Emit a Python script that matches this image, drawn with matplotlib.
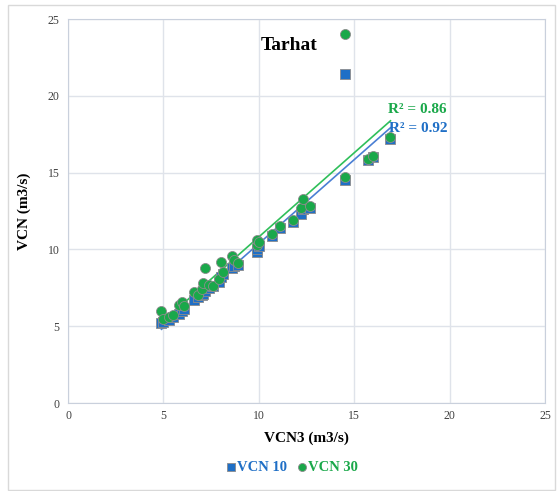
import numpy as np
import matplotlib.pyplot as plt
from matplotlib.patches import Rectangle

# VCN3 vs VCN10 / VCN30, station Tarhat
vcn3 = [4.9, 5.0, 5.3, 5.5, 5.8, 6.0, 6.1, 6.6, 6.8, 7.0, 7.1, 7.2, 7.4, 7.6, 7.9,
        8.0, 8.1, 8.6, 8.7, 8.9, 9.9, 9.9, 10.0, 10.7, 11.1, 11.8, 12.2, 12.3,
        12.7, 14.5, 14.5, 15.7, 16.0, 16.9]
vcn10 = [5.2, 5.3, 5.4, 5.6, 5.8, 6.0, 6.1, 6.7, 6.9, 7.0, 7.1, 7.3, 7.5, 7.6, 7.9,
         8.2, 8.4, 8.8, 8.9, 9.0, 9.8, 10.0, 10.2, 10.9, 11.4, 11.8, 12.3, 12.6,
         12.7, 14.5, 21.4, 15.8, 16.0, 17.2]
vcn30 = [6.0, 5.5, 5.6, 5.7, 6.4, 6.6, 6.3, 7.2, 7.0, 7.4, 7.8, 8.8, 7.7, 7.6, 8.1,
         9.2, 8.5, 9.6, 9.3, 9.1, 10.3, 10.6, 10.5, 11.0, 11.5, 11.9, 12.7, 13.3,
         12.8, 14.7, 24.0, 15.9, 16.1, 17.3]
r2_labels = ["R² = 0.92", "R² = 0.86"]

blue = "#1f6fc6"
green = "#1aa84a"
serif = "Liberation Serif"

fig = plt.figure(figsize=(5.57, 4.91), dpi=100)
fig.patches.append(Rectangle((8 / 557, 1 / 491), 547 / 557, 485 / 491,
                             transform=fig.transFigure, fill=False,
                             edgecolor="#d9d9d9", linewidth=1))
ax = fig.add_axes([68 / 557, 88 / 491, 477 / 557, 384 / 491])

x = np.array(vcn3)
ax.scatter(vcn3, vcn10, marker="s", s=46, color=blue, edgecolor="#8c8c8c",
           linewidth=0.6, label="VCN 10", zorder=3)
ax.scatter(vcn3, vcn30, marker="o", s=52, color=green, edgecolor="#8c8c8c",
           linewidth=0.6, label="VCN 30", zorder=4)

# linear trendlines
xs = np.array([x.min(), x.max()])
for ys, col in [(vcn10, "#4a7fd4"), (vcn30, "#2fbf5a")]:
    a, b = np.polyfit(x, ys, 1)
    ax.plot(xs, a * xs + b, color=col, linewidth=1.2, zorder=2)

ax.text(16.85, 17.9, r2_labels[0], color=blue, fontsize=11, fontweight="bold",
        family=serif, ha="left", va="center")
ax.text(16.75, 19.1, r2_labels[1], color=green, fontsize=11, fontweight="bold",
        family=serif, ha="left", va="center")
ax.text(11.6, 23.3, "Tarhat", fontsize=14, fontweight="bold", family=serif,
        ha="center", va="center")

ax.set_xlim(0, 25)
ax.set_ylim(0, 25)
ax.set_xticks(range(0, 26, 5))
ax.set_yticks(range(0, 26, 5))
ax.grid(True, color="#dfe3ea", linewidth=1)
ax.set_axisbelow(True)
for s in ax.spines.values():
    s.set_color("#c9d0dc")
ax.tick_params(axis="y", length=0, labelsize=8.5, labelcolor="#404040", pad=6)
ax.tick_params(axis="x", length=0, labelsize=8.5, labelcolor="#404040", pad=5)
for lab in ax.get_xticklabels() + ax.get_yticklabels():
    lab.set_family(serif)

ax.set_xlabel("VCN3 (m3/s)", fontsize=11, fontweight="bold", family=serif, labelpad=7)
ax.set_ylabel("VCN (m3/s)", fontsize=11, fontweight="bold", family=serif, labelpad=12)

fig.legend(loc="center", bbox_to_anchor=(290 / 557, 1 - 467 / 491), ncol=2,
           frameon=False, prop={"family": serif, "weight": "bold", "size": 10.5},
           labelcolor="markerfacecolor", handletextpad=-0.2, columnspacing=0.4,
           handlelength=1.2, markerscale=0.8)

fig.savefig("out.png", dpi=100)
